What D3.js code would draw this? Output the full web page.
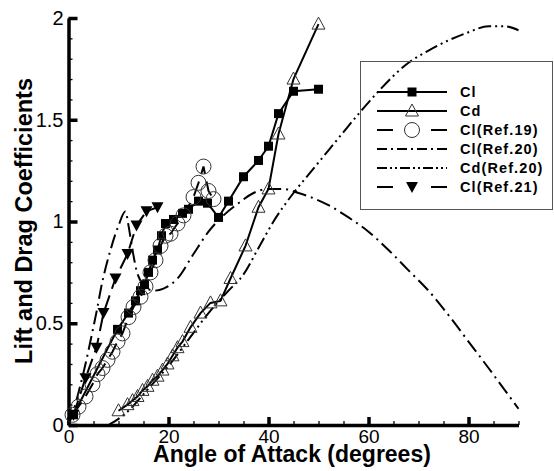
<!DOCTYPE html>
<html>
<head>
<meta charset="utf-8">
<script src="https://cdn.jsdelivr.net/npm/d3@7"></script>
<style>
  html, body { margin: 0; padding: 0; background: #fff; }
  svg { display: block; }
  text { font-family: "Liberation Sans", Arial, sans-serif; fill: #000; }
</style>
</head>
<body>
<svg id="chart" width="554" height="471"></svg>
<script>
// Angle of attack (degrees) and coefficients for each series
const clAoa = [1, 9.8, 12, 13.4, 14.4, 15.2, 16, 16.8, 17.8, 18.6, 19.4, 21, 22.8, 24, 26, 27.8, 30, 32, 35, 38, 40, 42, 45, 50];
const clVal = [0.05, 0.47, 0.55, 0.61, 0.66, 0.69, 0.75, 0.81, 0.86, 0.93, 0.99, 1.01, 1.04, 1.06, 1.10, 1.09, 1.02, 1.10, 1.22, 1.30, 1.37, 1.53, 1.64, 1.65];

const cdAoa = [10, 11.8, 12.8, 13.8, 14.8, 15.8, 16.8, 17.8, 18.8, 19.8, 20.8, 21.8, 22.8, 24.4, 26.4, 28.4, 30.4, 32.4, 35.4, 38, 40, 42, 45, 50];
const cdVal = [0.07, 0.10, 0.12, 0.14, 0.17, 0.19, 0.22, 0.24, 0.27, 0.30, 0.34, 0.38, 0.41, 0.48, 0.55, 0.60, 0.61, 0.72, 0.88, 1.07, 1.16, 1.43, 1.70, 1.97];

const ref19Aoa = [0.8, 2, 3.4, 4.8, 5.8, 6.8, 7.8, 8.8, 9.8, 10.8, 12, 13, 14.4, 15.4, 16.4, 17.4, 18.4, 19.4, 20.4, 21.8, 23, 25, 26, 27, 28, 29];
const ref19Val = [0.05, 0.09, 0.14, 0.20, 0.25, 0.28, 0.32, 0.36, 0.41, 0.45, 0.53, 0.58, 0.63, 0.68, 0.75, 0.81, 0.88, 0.93, 0.94, 0.99, 1.03, 1.12, 1.19, 1.27, 1.15, 1.11];

const ref20ClAoa = [0, 1, 2, 3.4, 4.8, 5.8, 6.4, 8.4, 10, 11.4, 12, 12.8, 13.6, 15, 17, 19, 21.8, 25, 28, 31, 34, 37, 40, 43, 46, 48.4, 52, 56, 60, 64, 68, 72, 76, 80, 84, 87, 90];
const ref20ClVal = [0, 0.07, 0.16, 0.30, 0.46, 0.58, 0.66, 0.86, 0.98, 1.05, 0.98, 0.86, 0.76, 0.69, 0.66, 0.67, 0.72, 0.84, 0.95, 1.03, 1.09, 1.14, 1.16, 1.16, 1.14, 1.12, 1.08, 1.02, 0.95, 0.86, 0.76, 0.66, 0.54, 0.41, 0.28, 0.18, 0.08];

const ref20CdAoa = [8, 10, 12, 16, 20, 24, 28, 32, 35, 38, 41, 45, 48, 51, 54, 58.4, 62, 68, 72, 76, 80, 84, 87, 90];
const ref20CdVal = [0, 0.03, 0.07, 0.18, 0.29, 0.42, 0.55, 0.66, 0.74, 0.87, 1.00, 1.14, 1.23, 1.32, 1.41, 1.54, 1.64, 1.78, 1.84, 1.89, 1.93, 1.96, 1.96, 1.94];

const ref21Aoa = [1, 3.4, 5.6, 7, 9.4, 11.8, 13.6, 15.6, 17.8];
const ref21Val = [0.05, 0.23, 0.38, 0.55, 0.72, 0.84, 0.98, 1.05, 1.07];

const xMajorTicks = [0, 20, 40, 60, 80];
const yMajorTicks = [0, 0.5, 1, 1.5, 2];
const legendLabels = ["Cl", "Cd", "Cl(Ref.19)", "Cl(Ref.20)", "Cd(Ref.20)", "Cl(Ref.21)"];

const svg = d3.select("#chart");
const x = d3.scaleLinear().domain([0, 90]).range([68.5, 518.5]);
const y = d3.scaleLinear().domain([0, 2]).range([425, 18]);

const pts = (a, v) => a.map((d, i) => [d, v[i]]);
const series = [
  { name: legendLabels[0], data: pts(clAoa, clVal), dash: null, width: 2, marker: "square", curve: d3.curveLinear },
  { name: legendLabels[1], data: pts(cdAoa, cdVal), dash: null, width: 2, marker: "triangle", curve: d3.curveLinear },
  { name: legendLabels[2], data: pts(ref19Aoa, ref19Val), dash: "15,8", width: 2, marker: "circle", curve: d3.curveLinear },
  { name: legendLabels[3], data: pts(ref20ClAoa, ref20ClVal), dash: "14,5,2,5", width: 2, marker: null, curve: d3.curveMonotoneX },
  { name: legendLabels[4], data: pts(ref20CdAoa, ref20CdVal), dash: "13,4,2,4,2,4", width: 2, marker: null, curve: d3.curveMonotoneX },
  { name: legendLabels[5], data: pts(ref21Aoa, ref21Val), dash: "15,7", width: 2, marker: "down", curve: d3.curveLinear }
];

// marker shapes
function drawMarker(g, type, cx, cy) {
  if (type === "square") {
    g.append("rect").attr("x", cx - 4.5).attr("y", cy - 4.5).attr("width", 9).attr("height", 9).attr("fill", "#000");
  } else if (type === "triangle") {
    g.append("path").attr("d", `M${cx},${cy - 7}L${cx + 6.5},${cy + 5}L${cx - 6.5},${cy + 5}Z`)
      .attr("fill", "none").attr("stroke", "#333").attr("stroke-width", 1);
  } else if (type === "circle") {
    g.append("circle").attr("cx", cx).attr("cy", cy).attr("r", 7.5)
      .attr("fill", "none").attr("stroke", "#333").attr("stroke-width", 1);
  } else if (type === "down") {
    g.append("path").attr("d", `M${cx - 6},${cy - 5}L${cx + 6},${cy - 5}L${cx},${cy + 6}Z`).attr("fill", "#000");
  }
}

// axes: major and minor ticks pointing inward
const axisG = svg.append("g");
const xMinor = axisG.append("g").attr("transform", `translate(0,${y(0)})`)
  .call(d3.axisBottom(x).tickValues(d3.range(0, 91, 5)).tickSize(-4).tickSizeOuter(0).tickFormat(""));
xMinor.selectAll(".tick line").attr("stroke-width", 1.3);
xMinor.select(".domain").attr("stroke-width", 3.5);

const xMajor = axisG.append("g").attr("transform", `translate(0,${y(0)})`)
  .call(d3.axisBottom(x).tickValues(xMajorTicks).tickSize(-8).tickSizeOuter(0).tickPadding(5).tickFormat(d => String(d)));
xMajor.select(".domain").remove();
xMajor.selectAll(".tick line").attr("stroke-width", 3.5);
xMajor.selectAll(".tick text").attr("font-size", 19).attr("font-family", "Liberation Sans, Arial, sans-serif");

const yMinor = axisG.append("g").attr("transform", `translate(${x(0)},0)`)
  .call(d3.axisLeft(y).tickValues(d3.range(0, 21).map(d => d / 10)).tickSize(-4).tickSizeOuter(0).tickFormat(""));
yMinor.selectAll(".tick line").attr("stroke-width", 1.3);
yMinor.select(".domain").attr("stroke-width", 3.5);

const yMajor = axisG.append("g").attr("transform", `translate(${x(0)},0)`)
  .call(d3.axisLeft(y).tickValues(yMajorTicks).tickSize(-9).tickSizeOuter(0).tickPadding(5).tickFormat(d => String(d)));
yMajor.select(".domain").remove();
yMajor.selectAll(".tick line").attr("stroke-width", 3.5);
yMajor.selectAll(".tick text").attr("font-size", 20).attr("font-family", "Liberation Sans, Arial, sans-serif");

// curves
const plot = svg.append("g");
series.forEach(s => {
  const line = d3.line().x(d => x(d[0])).y(d => y(d[1])).curve(s.curve);
  plot.append("path").datum(s.data).attr("d", line)
    .attr("fill", "none").attr("stroke", "#000").attr("stroke-width", s.width)
    .attr("stroke-dasharray", s.dash);
});
series.forEach(s => {
  if (!s.marker) return;
  const g = plot.append("g");
  s.data.forEach(d => drawMarker(g, s.marker, x(d[0]), y(d[1])));
});

// axis titles
svg.append("text").attr("x", 292).attr("y", 462).attr("text-anchor", "middle")
  .attr("font-size", 23).attr("font-weight", "bold").text("Angle of Attack (degrees)");
svg.append("text").attr("transform", "translate(32,221) rotate(-90)").attr("text-anchor", "middle")
  .attr("font-size", 23.5).attr("font-weight", "bold").text("Lift and Drag Coefficients");

// legend
const leg = svg.append("g");
leg.append("rect").attr("x", 360.5).attr("y", 61.5).attr("width", 192).attr("height", 148)
  .attr("fill", "none").attr("stroke", "#555").attr("stroke-width", 1);
series.forEach((s, i) => {
  const ly = 92 + i * 19;
  leg.append("line").attr("x1", 377).attr("x2", 447).attr("y1", ly).attr("y2", ly)
    .attr("stroke", "#000").attr("stroke-width", 2)
    .attr("stroke-dasharray", s.marker && s.dash ? "16,38" : (s.dash ? (i === 3 ? "10,4,2,4" : "10,3,2,3,2,3") : null));
  if (s.marker && s.dash) {
    leg.append("line").attr("x1", 431).attr("x2", 447).attr("y1", ly).attr("y2", ly)
      .attr("stroke", "#000").attr("stroke-width", 2);
  }
  drawMarker(leg, s.marker, 412, ly);
  leg.append("text").attr("x", 460).attr("y", ly).attr("dy", "0.36em")
    .attr("font-size", 14.5).attr("font-weight", "bold").attr("letter-spacing", 1.1).text(s.name);
});
</script>
</body>
</html>
